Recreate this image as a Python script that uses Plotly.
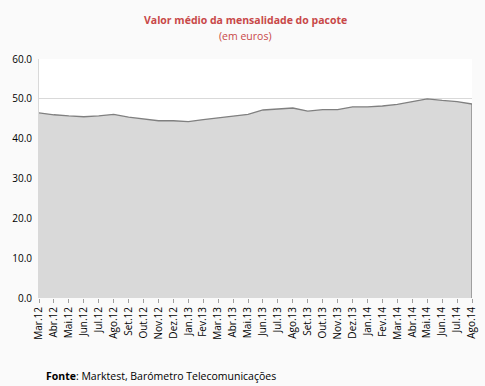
import plotly.graph_objects as go

months = ["Mar.12", "Abr.12", "Mai.12", "Jun.12", "Jul.12", "Ago.12", "Set.12", "Out.12",
          "Nov.12", "Dez.12", "Jan.13", "Fev.13", "Mar.13", "Abr.13", "Mai.13", "Jun.13",
          "Jul.13", "Ago.13", "Set.13", "Out.13", "Nov.13", "Dez.13", "Jan.14", "Fev.14",
          "Mar.14", "Abr.14", "Mai.14", "Jun.14", "Jul.14", "Ago.14"]
values = [46.5, 46.0, 45.7, 45.5, 45.7, 46.1, 45.4, 44.9,
          44.5, 44.5, 44.3, 44.8, 45.2, 45.7, 46.1, 47.2,
          47.4, 47.7, 46.9, 47.3, 47.3, 48.0, 48.0, 48.2,
          48.6, 49.3, 50.0, 49.6, 49.3, 48.7]
y_ticks = [0, 10, 20, 30, 40, 50, 60]

idx = list(range(len(months)))
font = "Open Sans"

fig = go.Figure()
fig.add_trace(go.Scatter(
    x=idx, y=values, mode="lines", fill="tozeroy",
    fillcolor="#d9d9d9", line=dict(color="#808080", width=1.3),
    hoverinfo="skip", showlegend=False))
# closing edge of the area at the last category
fig.add_trace(go.Scatter(
    x=[idx[-1], idx[-1]], y=[0, values[-1]], mode="lines",
    line=dict(color="#808080", width=1.3), hoverinfo="skip", showlegend=False))

fig.update_layout(
    width=485, height=386,
    margin=dict(l=39, r=13, t=59, b=88),
    paper_bgcolor="#fafafa", plot_bgcolor="#ffffff",
    font=dict(family=font, size=10, color="#000000"),
    xaxis=dict(
        range=[0, len(months) - 1], tickvals=idx, ticktext=months,
        tickangle=-90, ticks="outside", ticklen=4, tickcolor="#a0a0a0",
        showgrid=False, zeroline=False, showline=False, automargin=False,
        tickfont=dict(family=font, size=10, color="#000000")),
    yaxis=dict(
        range=[0, 60], tickvals=y_ticks, tickformat=".1f",
        showgrid=True, gridcolor="#d9d9d9", gridwidth=1,
        zeroline=False, showline=True, linecolor="#d9d9d9", linewidth=1,
        ticks="", ticklabelstandoff=4, automargin=False,
        tickfont=dict(family=font, size=10, color="#000000")),
    annotations=[
        dict(text="<b>Valor médio da mensalidade do pacote</b>", xref="paper", yref="paper",
             x=0.476, y=1.163, xanchor="center", yanchor="middle", showarrow=False,
             font=dict(family=font, size=10.5, color="#c84848")),
        dict(text="(em euros)", xref="paper", yref="paper",
             x=0.476, y=1.096, xanchor="center", yanchor="middle", showarrow=False,
             font=dict(family=font, size=10.5, color="#c84848")),
        dict(text="<b>Fonte</b>: Marktest, Barómetro Telecomunicações", xref="paper", yref="paper",
             x=0.012, y=-0.326, xanchor="left", yanchor="middle", showarrow=False,
             font=dict(family=font, size=10.5, color="#000000")),
    ],
)

fig.write_html("out.html", config={"displayModeBar": False},
               post_script="document.body.style.margin='0';document.body.style.overflow='hidden';")
